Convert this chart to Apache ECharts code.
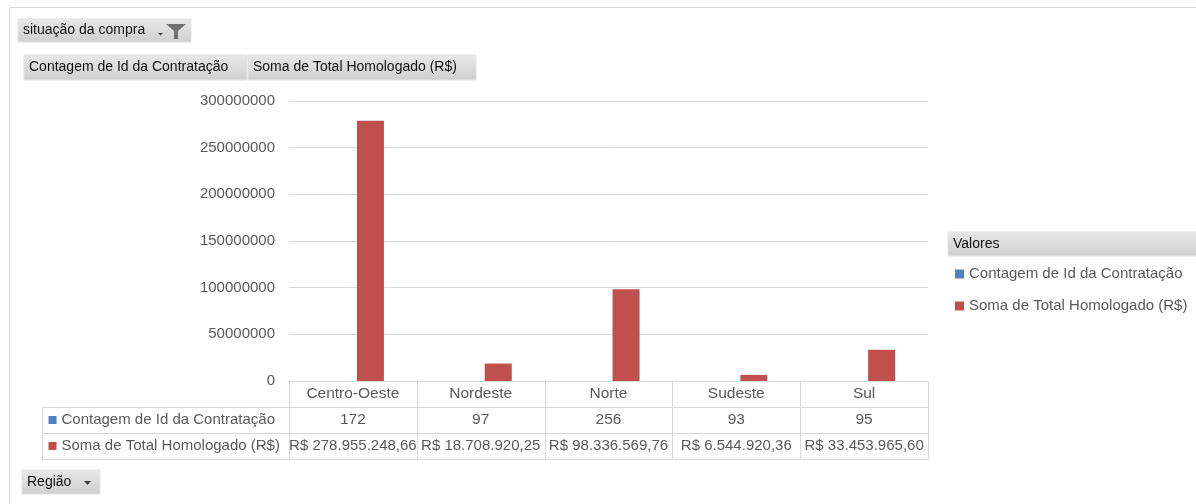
<!DOCTYPE html>
<html><head><meta charset="utf-8">
<script src="https://cdn.jsdelivr.net/npm/echarts@6/dist/echarts.min.js"></script>
<style>html,body{margin:0;padding:0;background:#fff}#c{width:1196px;height:504px}</style>
</head><body><div id="c"></div>
<script>
const categories = ['Centro-Oeste', 'Nordeste', 'Norte', 'Sudeste', 'Sul'];
const seriesNames = ['Contagem de Id da Contratação', 'Soma de Total Homologado (R$)'];
const contagem = [172, 97, 256, 93, 95];
const soma = [278955248.66, 18708920.25, 98336569.76, 6544920.36, 33453965.60];
const yMax = 300000000;
const yInterval = 50000000;
const colors = ['#4f81bd', '#c0504d'];

function brl(v) {
  const parts = v.toFixed(2).split('.');
  return 'R$ ' + parts[0].replace(/\B(?=(\d{3})+(?!\d))/g, '.') + ',' + parts[1];
}
const tableRows = [categories, contagem.map(String), soma.map(brl)];
const tableData = [];
tableRows.forEach((row, r) => row.forEach((t, c) => tableData.push([c, r, t])));

const FONT = '"Liberation Sans", Arial, sans-serif';
const TXT = '#595959';
const LINE = '#d9d9d9';
const grad = {type:'linear', x:0, y:0, x2:0, y2:1, colorStops:[{offset:0,color:'#e8e8e8'},{offset:1,color:'#cfcfcf'}]};

function button(x, y, w, h, label, fs) {
  return [
    {type:'rect', shape:{x:x, y:y, width:w, height:h}, style:{fill:grad, stroke:'#e4e4e4', lineWidth:1}},
    {type:'text', x:x + 5, y:y + h/2, style:{text:label, fill:'#111', font:fs + 'px ' + FONT, verticalAlign:'middle', align:'left'}}
  ];
}

const graphics = [].concat(
  [{type:'rect', shape:{x:9.5, y:7.5, width:1300, height:600}, style:{fill:'none', stroke:LINE, lineWidth:1}}],
  button(18, 19, 173, 23, 'situação da compra', 14),
  [{type:'polygon', shape:{points:[[158,33],[163,33],[160.5,35.5]]}, style:{fill:'#404040'}},
   {type:'polygon', shape:{points:[[166,24],[186,24],[178,31],[178,39],[174,39],[174,31]]}, style:{fill:'#707070'}}],
  button(24, 55, 223, 25, 'Contagem de Id da Contratação', 14),
  button(248, 55, 228, 25, 'Soma de Total Homologado (R$)', 14),
  button(948, 232, 260, 24, 'Valores', 14),
  button(22, 470, 78, 24, 'Região', 14),
  [{type:'polygon', shape:{points:[[84,481],[91,481],[87.5,485]]}, style:{fill:'#404040'}}]
);

const chart = echarts.init(document.getElementById('c'), null, {renderer:'canvas'});
chart.setOption({
  animation: false,
  backgroundColor: '#fff',
  color: colors,
  textStyle: {fontFamily: FONT},
  legend: {
    orient: 'vertical', left: 950, top: 260, itemGap: 14,
    icon: 'rect', itemWidth: 9, itemHeight: 9,
    textStyle: {fontSize: 15, color: TXT, fontFamily: FONT, lineHeight: 18},
    data: seriesNames
  },
  grid: [
    {left: 289, right: 268, top: 101, height: 280},
    {left: 289, right: 268, top: 381, height: 78}
  ],
  xAxis: [
    {type:'category', data: categories, gridIndex: 0,
     axisLine:{lineStyle:{color:LINE}}, axisTick:{show:false}, axisLabel:{show:false}},
    {type:'category', data: categories, gridIndex: 1, show: false}
  ],
  yAxis: [
    {type:'value', gridIndex: 0, min: 0, max: yMax, interval: yInterval,
     axisLine:{show:false}, axisTick:{show:false},
     axisLabel:{fontSize: 15, color: TXT, margin: 14, fontFamily: FONT, formatter: function (v) { return String(v); }},
     splitLine:{lineStyle:{color:LINE}}},
    {type:'category', data: ['0','1','2'], gridIndex: 1, inverse: true, show: false}
  ],
  series: [
    {name: seriesNames[0], type:'bar', data: contagem, barWidth: 27, barGap: '30%', xAxisIndex:0, yAxisIndex:0},
    {name: seriesNames[1], type:'bar', data: soma, barWidth: 27, barGap: '30%', xAxisIndex:0, yAxisIndex:0},
    {type:'custom', xAxisIndex:1, yAxisIndex:1, data: tableData, silent: true,
     renderItem: function (params, api) {
       const c = api.value(0), r = api.value(1);
       const text = tableData[params.dataIndex][2];
       const p = api.coord([c, r]);
       const s = api.size([1, 1]);
       const x0 = Math.round(p[0] - s[0]/2) + 0.5, x1 = Math.round(p[0] + s[0]/2) + 0.5;
       const y0 = Math.round(p[1] - s[1]/2) + 0.5, y1 = Math.round(p[1] + s[1]/2) + 0.5;
       const w = x1 - x0, h = y1 - y0;
       const ch = [
         {type:'rect', shape:{x:x0, y:y0, width:w, height:h}, style:{fill:'none', stroke:LINE, lineWidth:1}},
         {type:'text', x:p[0], y:p[1], style:{text:text, fill:TXT, font:(r === 2 ? 15 : 15.5) + 'px ' + FONT, align:'center', verticalAlign:'middle'}}
       ];
       if (c === 0 && r > 0) {
         const lx = x0 - 247;
         ch.push({type:'rect', shape:{x:lx, y:y0, width:247, height:h}, style:{fill:'none', stroke:LINE, lineWidth:1}});
         ch.push({type:'rect', shape:{x:lx + 6, y:Math.round(p[1]) - 4, width:8, height:8}, style:{fill:colors[r-1]}});
         ch.push({type:'text', x:lx + 19, y:p[1], style:{text:seriesNames[r-1], fill:TXT, font:'15px ' + FONT, align:'left', verticalAlign:'middle'}});
       }
       return {type:'group', children: ch};
     }}
  ],
  graphic: graphics
});
</script>
</body></html>
